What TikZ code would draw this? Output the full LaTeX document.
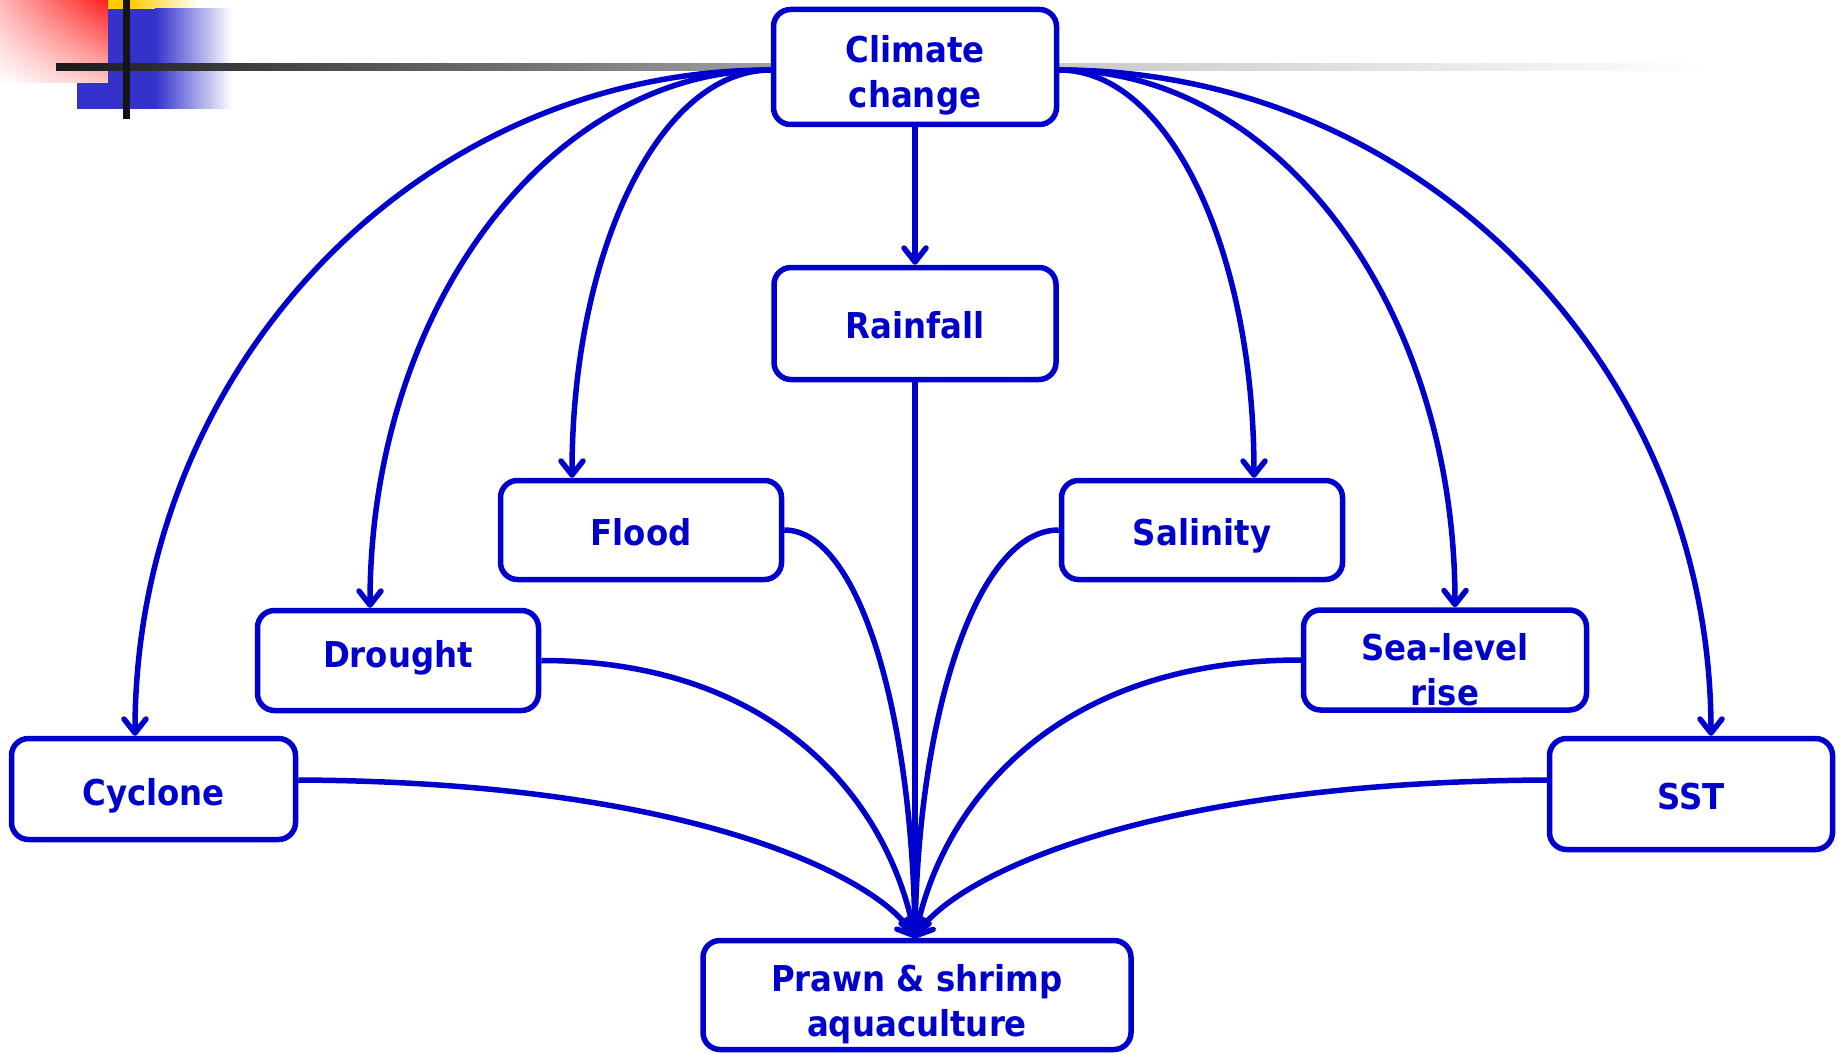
\documentclass[tikz,border=0pt]{standalone}
\usepackage{fontspec}
\setmainfont{DejaVu Sans}[FakeStretch=0.91]
\usetikzlibrary{arrows.meta,shadings}
\definecolor{dblue}{RGB}{0,0,204}
\definecolor{corner}{RGB}{51,51,204}
\definecolor{gold}{RGB}{255,204,0}
\definecolor{hotred}{RGB}{255,30,30}
\definecolor{darkbar}{RGB}{26,26,26}
\definecolor{midbar}{RGB}{160,160,160}
\definecolor{lightbar}{RGB}{200,200,200}
% two centred lines whose reference point is the first baseline
\newcommand\twoline[2]{\begin{tabular}[t]{@{}c@{}}#1\\#2\end{tabular}}
\begin{document}
\begin{tikzpicture}[x=0.5pt,y=-0.5pt,
  blk/.style={draw=dblue, line width=2.75pt, rounded corners=8.5pt, fill=white,
    text=dblue, align=center, inner sep=0pt, text depth=0pt,
    font=\fontsize{17.8}{22.5}\selectfont\bfseries},
  % baseline offset below the box centre, in pixels
  base/.style={text height=#1pt},
  conn/.style={draw=dblue, line width=2.75pt,
    -{Straight Barb[length=7pt,width=11pt,round]}}]
\useasboundingbox (0,0) rectangle (1841,1054);

% corner ornament
\shade[upper right=hotred, upper left=red!28!white,
       lower right=red!22!white, lower left=white] (0,0) rectangle (108,83);
\shade[left color=gold, right color=white] (130,0) rectangle (200,9);
\fill[gold] (108,0) rectangle (131,9);
\fill[corner] (77,83) rectangle (108,109);
\fill[corner] (108,9) rectangle (156,109);
\shade[left color=corner, right color=white] (155,9) rectangle (232,109);
\shade[left color=darkbar, right color=midbar] (56,64) rectangle (772,71);
\shade[left color=lightbar, right color=white] (1056,64) rectangle (1710,71);
\fill[black!92] (123,0) rectangle (130,119);

% boxes
\node[blk, text height=0pt, text depth=4.9pt,
      minimum width=141.5pt, minimum height=57.5pt] (cc) at (915,67) {\twoline{Climate}{change}};
\node[blk, base=15,   minimum width=141pt,   minimum height=56pt]   (rain)  at (915,323.5) {Rainfall};
\node[blk, base=15,   minimum width=140.5pt, minimum height=49.5pt] (flood) at (641,530)   {Flood};
\node[blk, base=15,   minimum width=140.5pt, minimum height=49.5pt] (sal)   at (1202,530)  {Salinity};
\node[blk, base=6.5,  minimum width=140.5pt, minimum height=50pt]   (dro)   at (398,660.5) {Drought};
\node[blk, text height=0pt,
      minimum width=141.5pt, minimum height=50pt]   (sea)   at (1445,660)  {\twoline{Sea-level}{rise}};
\node[blk, base=16.8, minimum width=142pt,   minimum height=50.5pt] (cyc)   at (153.5,789) {Cyclone};
\node[blk, base=15.5, minimum width=141.5pt, minimum height=55.5pt] (sst)   at (1691,794)  {SST};
\node[blk, text height=0pt, text depth=3.3pt,
      minimum width=214pt,   minimum height=54.5pt] (prawn) at (917,995)   {\twoline{Prawn \& shrimp}{aquaculture}};

\coordinate (tip) at ([xshift=-1pt]prawn.north);
\coordinate (ccl) at ([yshift=-1.5pt]cc.west);
\coordinate (ccr) at ([yshift=-1.5pt]cc.east);

% climate change to its drivers
\draw[conn] (cc.south) -- (rain.north);
\draw[conn] (ccl) .. controls +(-352,0) and +(0,-369) .. ([xshift=-9.25pt]cyc.north);
\draw[conn] (ccl) .. controls +(-222,0) and +(0,-298) .. ([xshift=-14pt]dro.north);
\draw[conn] (ccl) .. controls +(-111,0) and +(0,-227) .. ([xshift=-34.5pt]flood.north);
\draw[conn] (ccr) .. controls +(110,0) and +(0,-227) .. ([xshift=26pt]sal.north);
\draw[conn] (ccr) .. controls +(221,0) and +(0,-298) .. ([xshift=5pt]sea.north);
\draw[conn] (ccr) .. controls +(362,0) and +(0,-369) .. ([xshift=10pt]sst.north);

% drivers to aquaculture
\draw[conn] (rain.south) -- (tip);
\draw[conn] ([yshift=4.5pt]cyc.east) .. controls +(400,2) and +(-35,-58) .. (tip);
\draw[conn] (dro.east) .. controls +(241,0) and +(-25,-130) .. (tip);
\draw[conn] (flood.east) .. controls +(74,0) and +(-3,-227) .. (tip);
\draw[conn] (sal.west) .. controls +(-81,0) and +(3,-227) .. (tip);
\draw[conn] (sea.west) .. controls +(-249,0) and +(26,-130) .. (tip);
\draw[conn] ([yshift=7pt]sst.west) .. controls +(-410,2) and +(36,-58) .. (tip);
\end{tikzpicture}
\end{document}
